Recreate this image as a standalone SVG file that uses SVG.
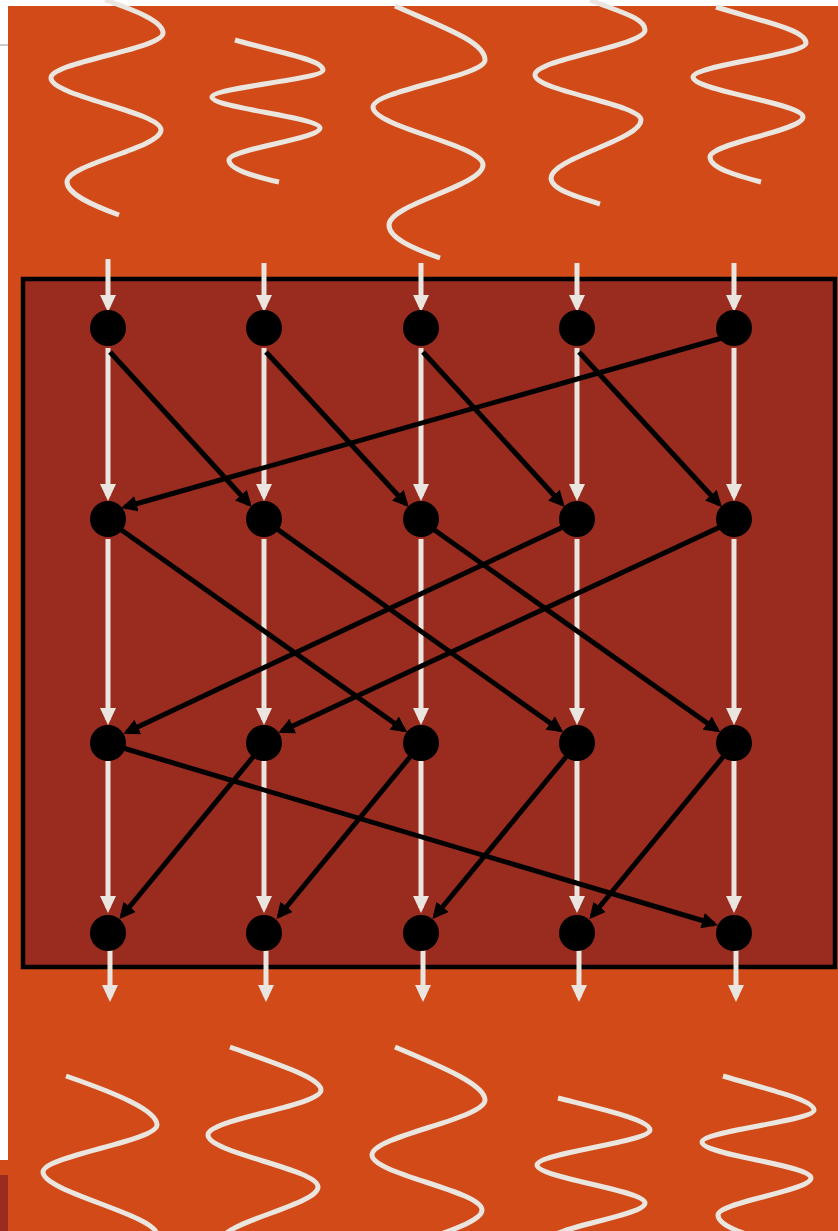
<svg xmlns="http://www.w3.org/2000/svg" width="838" height="1231" viewBox="0 0 838 1231">
<style>
.wave{fill:none;stroke:#EAE6DF;stroke-width:5}
.v{stroke:#EAE6DF;stroke-width:5;fill:none;marker-end:url(#wa)}
.d{stroke:#000;stroke-width:5;fill:none;marker-end:url(#ba)}
.n{fill:#000}
</style>
<defs>
<marker id="wa" markerUnits="userSpaceOnUse" markerWidth="17" markerHeight="16" refX="12" refY="8" orient="auto" viewBox="0 0 17 16"><path d="M0,0 L17,8 L0,16 z" fill="#EAE6DF"/></marker>
<marker id="ba" markerUnits="userSpaceOnUse" markerWidth="16" markerHeight="16" refX="12" refY="8" orient="auto" viewBox="0 0 16 16"><path d="M0,0 L16,8 L0,16 z" fill="#000"/></marker>
</defs>
<rect x="0" y="0" width="838" height="1231" fill="#fff"/>
<line x1="0" y1="45" x2="8" y2="45" stroke="#9a9a9a" stroke-width="1"/>
<rect x="0" y="1160" width="8" height="15" fill="#D14A18"/>
<rect x="0" y="1175" width="8" height="56" fill="#992B1F"/>
<rect x="8" y="6" width="830" height="1225" fill="#D14A18"/>
<g id="waves-top">
<path class="wave" d="M105,0 C134,10 163,21 163,33 C163,49 51,62 51,78 C51,96 161,112 161,130 C161,148 67,164 67,182 C67,194 92,205 119,215"/>
<path class="wave" d="M235,40 C285,54 323,60 323,70 C323,79.5 212,87.5 212,97 C212,108 320,117 320,128 C320,139 229,149 229,160 C229,169 252,176 279,182"/>
<path class="wave" d="M395,6 C445,28 485,42 485,60 C485,76.5 373,90.5 373,107 C373,127 483,145 483,165 C483,186 389,204 389,225 C389,238 412,248 440,258"/>
<path class="wave" d="M590,0 C620,12 645,18 645,30 C645,46 535,59 535,75 C535,91 641,104 641,120 C641,140 551,158 551,178 C551,189 574,196 600,204"/>
<path class="wave" d="M716,7 C765,22 806,30 806,43 C806,55 693,65 693,77 C693,91 803,103 803,117 C803,131 710,143 710,157 C710,168 735,175 761,182"/>
</g>
<g id="waves-bottom">
<path class="wave" d="M66,1076 C115,1093 157,1110 157,1125 C157,1141 43,1156 43,1172 C43,1192 157,1215 157,1235 C157,1255 60,1268 60,1285"/>
<path class="wave" d="M230,1047 C280,1065 321,1078 321,1090 C321,1106 208,1119 208,1135 C208,1153 318,1169 318,1187 C318,1205 222,1222 222,1240"/>
<path class="wave" d="M395,1047 C445,1068 485,1085 485,1100 C485,1119 372,1136 372,1155 C372,1174 482,1191 482,1210 C482,1229 380,1246 380,1265"/>
<path class="wave" d="M558,1098 C605,1110 650,1120 650,1130 C650,1142 537,1153 537,1165 C537,1178 645,1190 645,1203 C645,1216 550,1227 550,1240"/>
<path class="wave" d="M723,1076 C770,1090 814,1100 814,1110 C814,1121 702,1131 702,1142 C702,1155 811,1165 811,1178 C811,1191 718,1202 718,1215 C718,1226 745,1234 770,1242"/>
</g>
<rect id="stage" x="23" y="279" width="812" height="688" fill="#992B1F" stroke="#000" stroke-width="4.5"/>
<g id="connectors">
<line class="v" x1="108" y1="259" x2="108" y2="307"/>
<line class="v" x1="264" y1="263" x2="264" y2="307"/>
<line class="v" x1="421" y1="263" x2="421" y2="307"/>
<line class="v" x1="577" y1="263" x2="577" y2="307"/>
<line class="v" x1="734" y1="263" x2="734" y2="307"/>
<line class="v" x1="108" y1="348" x2="108" y2="496"/>
<line class="v" x1="264" y1="348" x2="264" y2="496"/>
<line class="v" x1="421" y1="348" x2="421" y2="496"/>
<line class="v" x1="577" y1="348" x2="577" y2="496"/>
<line class="v" x1="734" y1="348" x2="734" y2="496"/>
<line class="v" x1="108" y1="539" x2="108" y2="720"/>
<line class="v" x1="264" y1="539" x2="264" y2="720"/>
<line class="v" x1="421" y1="539" x2="421" y2="720"/>
<line class="v" x1="577" y1="539" x2="577" y2="720"/>
<line class="v" x1="734" y1="539" x2="734" y2="720"/>
<line class="v" x1="108" y1="761" x2="108" y2="908"/>
<line class="v" x1="264" y1="761" x2="264" y2="908"/>
<line class="v" x1="421" y1="761" x2="421" y2="908"/>
<line class="v" x1="577" y1="761" x2="577" y2="908"/>
<line class="v" x1="734" y1="761" x2="734" y2="908"/>
<line class="v" x1="110" y1="949" x2="110" y2="997"/>
<line class="v" x1="266" y1="949" x2="266" y2="997"/>
<line class="v" x1="423" y1="949" x2="423" y2="997"/>
<line class="v" x1="579" y1="949" x2="579" y2="997"/>
<line class="v" x1="736" y1="949" x2="736" y2="997"/>
<line class="d" x1="110" y1="352" x2="249" y2="504"/>
<line class="d" x1="266" y1="352" x2="406" y2="504"/>
<line class="d" x1="423" y1="352" x2="562" y2="504"/>
<line class="d" x1="579" y1="352" x2="719" y2="504"/>
<line class="d" x1="722" y1="338" x2="125" y2="507"/>
<line class="d" x1="120" y1="529" x2="404" y2="730"/>
<line class="d" x1="277" y1="529" x2="560" y2="730"/>
<line class="d" x1="433" y1="529" x2="717" y2="730"/>
<line class="d" x1="563" y1="527" x2="127" y2="732"/>
<line class="d" x1="720" y1="527" x2="282" y2="731"/>
<line class="d" x1="123" y1="748" x2="714" y2="924"/>
<line class="d" x1="253" y1="757" x2="122" y2="916"/>
<line class="d" x1="410" y1="757" x2="279" y2="916"/>
<line class="d" x1="566" y1="757" x2="435" y2="916"/>
<line class="d" x1="723" y1="757" x2="592" y2="916"/>
</g>
<g id="n11"><circle class="n" cx="108" cy="328" r="18"/></g>
<g id="n12"><circle class="n" cx="264" cy="328" r="18"/></g>
<g id="n13"><circle class="n" cx="421" cy="328" r="18"/></g>
<g id="n14"><circle class="n" cx="577" cy="328" r="18"/></g>
<g id="n15"><circle class="n" cx="734" cy="328" r="18"/></g>
<g id="n21"><circle class="n" cx="108" cy="519" r="18"/></g>
<g id="n22"><circle class="n" cx="264" cy="519" r="18"/></g>
<g id="n23"><circle class="n" cx="421" cy="519" r="18"/></g>
<g id="n24"><circle class="n" cx="577" cy="519" r="18"/></g>
<g id="n25"><circle class="n" cx="734" cy="519" r="18"/></g>
<g id="n31"><circle class="n" cx="108" cy="743" r="18"/></g>
<g id="n32"><circle class="n" cx="264" cy="743" r="18"/></g>
<g id="n33"><circle class="n" cx="421" cy="743" r="18"/></g>
<g id="n34"><circle class="n" cx="577" cy="743" r="18"/></g>
<g id="n35"><circle class="n" cx="734" cy="743" r="18"/></g>
<g id="n41"><circle class="n" cx="108" cy="933" r="18"/></g>
<g id="n42"><circle class="n" cx="264" cy="933" r="18"/></g>
<g id="n43"><circle class="n" cx="421" cy="933" r="18"/></g>
<g id="n44"><circle class="n" cx="577" cy="933" r="18"/></g>
<g id="n45"><circle class="n" cx="734" cy="933" r="18"/></g>
</svg>
